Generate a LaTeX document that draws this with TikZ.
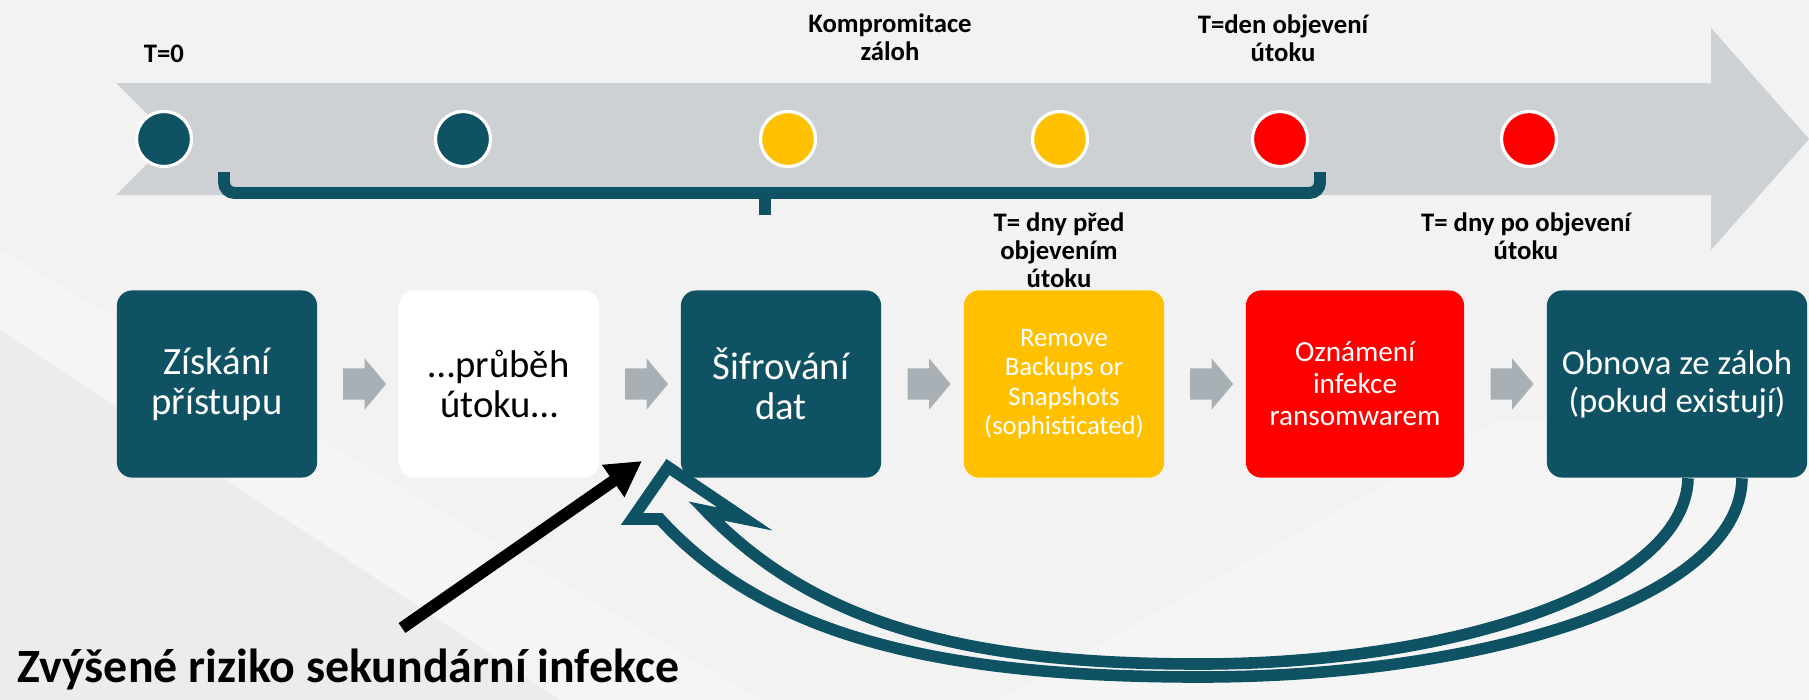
\documentclass[tikz,border=0pt]{standalone}
\usepackage{fontspec}
\setmainfont{Carlito}
\usetikzlibrary{arrows.meta,shapes.arrows,calc}
\definecolor{petrol}{RGB}{14,82,100}
\definecolor{amber}{RGB}{255,192,0}
\definecolor{alarm}{RGB}{255,0,0}
\definecolor{rail}{RGB}{205,209,212}
\definecolor{chevron}{RGB}{168,176,181}
\definecolor{paper}{RGB}{242,242,242}
\tikzset{
 stage/.style={rounded corners=4.3pt, minimum width=2cm, minimum height=1.87cm, inner sep=0pt, align=center, text=white, font=\fontsize{11}{11.3}\selectfont},
 dot/.style={circle, draw=white, line width=0.9pt, minimum size=0.55cm, inner sep=0pt},
 tag/.style={align=center, inner sep=0pt, font=\bfseries\fontsize{7.6}{8}\selectfont},
 next/.style={single arrow, fill=chevron, minimum height=0.43cm, inner xsep=0pt, inner ysep=0.15cm, single arrow head extend=0.1cm, single arrow tip angle=100},
 brace/.style={petrol, line width=3.4pt, rounded corners=3pt},
 loop/.style={petrol, line width=3.3pt, line join=miter}
}
\begin{document}
\begin{tikzpicture}[x=0.01cm, y=-0.01cm, >={Triangle[length=10pt,width=10.5pt]}]
 \fill[paper] (0,0) rectangle (1809,700);
 \useasboundingbox (0,0) rectangle (1809,700);
 % backdrop streaks
 \fill[black, opacity=0.025] (0,330) -- (560,700) -- (0,700) -- cycle;
 \fill[white, opacity=0.3] (0,250) -- (0,330) -- (560,700) -- (760,700) -- cycle;
 \fill[white, opacity=0.25] (1000,700) -- (1500,420) -- (1809,420) -- (1809,700) -- cycle;
 % time line
 \fill[rail] (116,83) -- (1711,83) -- (1711,28) -- (1809,139) -- (1711,250) -- (1711,195) -- (116,195) -- (172,139) -- cycle;
 \draw[brace] (224,172) -- (224,193) -- (1320,193) -- (1320,172);
 \draw[brace, rounded corners=0pt] (765,193) -- (765,215);
 \foreach \x/\col [count=\i] in {164/petrol,463/petrol,788/amber,1060/amber,1280/alarm,1529/alarm}
 \node[dot, fill=\col] (t\i) at (\x,139) {};
 \node[tag, anchor=base] (t0) at (164,62) {T=0};
 \node[tag] (kz) at (890,37) {Kompromitace\\záloh};
 \node[tag] (tden) at (1283,38) {T=den objevení\\útoku};
 \node[tag] (tpred) at (1059,250) {T= dny před\\objevením\\útoku};
 \node[tag] (tpo) at (1526,236) {T= dny po objevení\\útoku};
 % stages
 \node[stage, fill=petrol] (b1) at (217,384) {Získání\\přístupu};
 \node[stage, fill=white, text=black] (b2) at (499,384) {…průběh\\útoku…};
 \node[stage, fill=petrol] (b3) at (781,384) {Šifrování\\dat};
 \node[stage, fill=amber, font=\fontsize{7.6}{8.3}\selectfont] (b4) at (1064,384) {Remove\\Backups or\\Snapshots\\(sophisticated)};
 \node[stage, fill=alarm, minimum width=2.18cm, font=\fontsize{8.3}{9.1}\selectfont] (b5) at (1355,384) {Oznámení\\infekce\\ransomwarem};
 \node[stage, fill=petrol, minimum width=2.6cm, font=\fontsize{9.9}{10.8}\selectfont] (b6) at (1677,384) {Obnova ze záloh\\(pokud existují)};
 \foreach \a/\b in {b1/b2,b2/b3,b3/b4,b4/b5,b5/b6}
 \node[next] (n\a) at ($(\a.east)!0.5!(\b.west)$) {};
 % secondary infection
 \node[anchor=base west, inner sep=0pt, font=\bfseries\fontsize{13.6}{15}\selectfont] (risk) at (17,682) {Zvýšené riziko sekundární infekce};
 \coordinate (riskTail) at (402,628);
 \coordinate (hit) at (642,461);
 \draw[->, line width=3.4pt] (riskTail) -- (hit);
 % restore loop
 \coordinate (back) at (668,467);
 \draw[loop] ([xshift=0.65cm]b6.south) .. controls (1740,600) and (1480,677) .. (1200,677)
 .. controls (950,677) and (770,640) .. (660,519) -- (632,519) -- (back) -- (745,519) -- (706,511)
 .. controls (820,630) and (980,664) .. (1200,664) .. controls (1450,664) and (1685,590) .. ([xshift=0.11cm]b6.south);
\end{tikzpicture}
\end{document}
